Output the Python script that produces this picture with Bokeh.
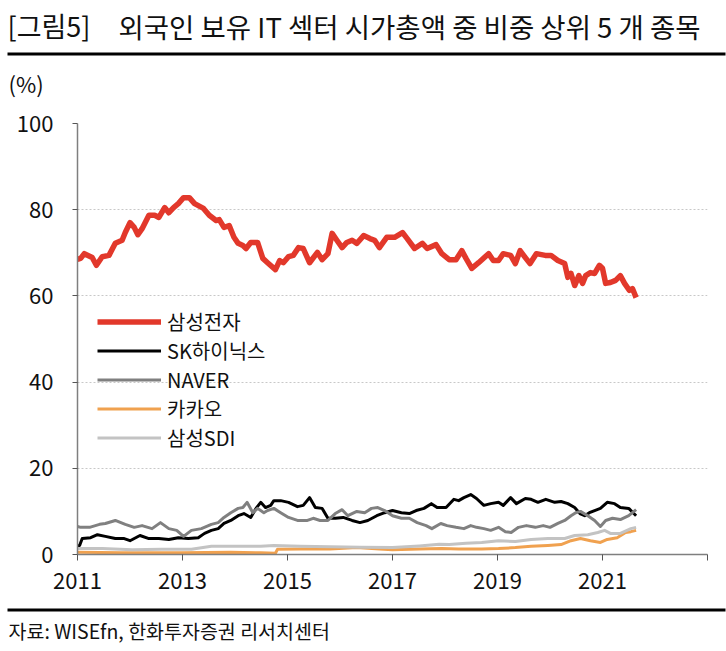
from bokeh.plotting import figure
from bokeh.layouts import column
from bokeh.models import (FixedTicker, Label, Legend, LegendItem, ColumnDataSource, Range1d,
                          BoxAnnotation)
from bokeh.embed import file_html
from bokeh.resources import INLINE

# ---------------- data (decimal years, % share) ----------------
samsung_t = [2011.00, 2011.06, 2011.13, 2011.28, 2011.36, 2011.47, 2011.60, 2011.72, 2011.85, 2011.91,
             2012.00, 2012.08, 2012.15, 2012.23, 2012.36, 2012.47, 2012.55, 2012.66, 2012.74, 2012.83,
             2012.92, 2013.02, 2013.13, 2013.23, 2013.40, 2013.51, 2013.64, 2013.70, 2013.79, 2013.89,
             2013.98, 2014.06, 2014.15, 2014.21, 2014.30, 2014.43, 2014.53, 2014.62, 2014.77, 2014.85,
             2014.92, 2015.02, 2015.11, 2015.21, 2015.30, 2015.42, 2015.57, 2015.66, 2015.77, 2015.85,
             2015.94, 2016.04, 2016.13, 2016.23, 2016.32, 2016.45, 2016.57, 2016.66, 2016.75, 2016.89,
             2017.04, 2017.19, 2017.28, 2017.42, 2017.57, 2017.66, 2017.83, 2017.94, 2018.08, 2018.21,
             2018.32, 2018.40, 2018.51, 2018.64, 2018.83, 2018.92, 2019.02, 2019.11, 2019.25, 2019.34,
             2019.43, 2019.53, 2019.62, 2019.74, 2019.91, 2020.02, 2020.15, 2020.28, 2020.34, 2020.40,
             2020.47, 2020.55, 2020.62, 2020.68, 2020.77, 2020.85, 2020.94, 2021.00, 2021.06, 2021.15,
             2021.25, 2021.34, 2021.42, 2021.51, 2021.57, 2021.64]
samsung_v = [68.5, 68.7, 69.8, 68.9, 67.1, 69.1, 69.4, 72.2, 72.9, 74.7,
             77.0, 75.9, 74.2, 75.6, 78.7, 78.7, 78.2, 80.5, 79.3, 80.5,
             81.4, 82.8, 82.8, 81.4, 80.3, 78.7, 77.5, 77.7, 75.9, 76.3,
             73.6, 72.2, 71.7, 71.0, 72.4, 72.4, 68.7, 67.7, 66.1, 68.2,
             67.7, 69.1, 69.4, 71.2, 71.0, 67.7, 70.1, 68.4, 69.8, 74.5,
             72.9, 71.2, 72.4, 72.9, 72.2, 74.0, 73.3, 72.9, 71.2, 73.6,
             73.6, 74.7, 73.3, 71.0, 72.2, 71.0, 71.9, 69.8, 68.4, 68.4,
             70.5, 68.7, 66.4, 67.7, 69.8, 68.2, 68.2, 69.8, 69.4, 67.5,
             70.5, 68.9, 67.5, 69.8, 69.4, 69.4, 68.2, 67.5, 64.3, 65.2,
             62.4, 64.7, 62.9, 64.7, 65.4, 65.2, 67.1, 66.4, 62.9, 63.1,
             63.6, 64.7, 62.9, 61.3, 61.7, 59.6]

skhynix_t = [2011.00, 2011.04, 2011.09, 2011.25, 2011.38, 2011.53, 2011.72, 2011.89, 2012.00, 2012.19,
             2012.36, 2012.55, 2012.74, 2012.92, 2013.11, 2013.30, 2013.42, 2013.55, 2013.68, 2013.79,
             2013.92, 2014.06, 2014.17, 2014.30, 2014.40, 2014.49, 2014.58, 2014.68, 2014.74, 2014.87,
             2015.02, 2015.19, 2015.30, 2015.42, 2015.53, 2015.66, 2015.77, 2015.91, 2016.06, 2016.23,
             2016.38, 2016.53, 2016.70, 2016.85, 2017.00, 2017.17, 2017.32, 2017.45, 2017.60, 2017.74,
             2017.85, 2018.02, 2018.17, 2018.26, 2018.36, 2018.49, 2018.60, 2018.74, 2018.87, 2019.02,
             2019.11, 2019.25, 2019.36, 2019.53, 2019.64, 2019.77, 2019.92, 2020.09, 2020.21, 2020.34,
             2020.47, 2020.57, 2020.66, 2020.75, 2020.85, 2020.96, 2021.09, 2021.23, 2021.34, 2021.50,
             2021.64]
skhynix_v = [2.0, 2.1, 3.7, 3.9, 4.6, 4.2, 3.7, 3.7, 3.2, 4.4,
             3.7, 3.7, 3.5, 3.9, 3.7, 3.9, 4.9, 5.6, 6.0, 7.2,
             7.9, 9.0, 9.5, 8.6, 10.7, 12.1, 10.9, 11.4, 12.5, 12.5,
             12.1, 11.1, 11.4, 13.2, 10.9, 10.7, 8.4, 8.4, 8.6, 7.9,
             7.4, 7.9, 9.0, 9.7, 10.2, 9.7, 9.5, 10.2, 10.7, 11.8,
             10.9, 10.9, 12.8, 12.5, 13.2, 13.9, 13.0, 11.4, 11.8, 12.1,
             11.4, 13.2, 11.8, 13.0, 12.8, 12.1, 12.8, 12.1, 12.3, 11.8,
             10.9, 9.5, 9.0, 9.7, 10.2, 10.7, 12.1, 11.8, 10.9, 10.7,
             9.0]

naver_t = [2011.00, 2011.06, 2011.23, 2011.42, 2011.53, 2011.72, 2011.91, 2012.08, 2012.23, 2012.42,
           2012.58, 2012.74, 2012.89, 2013.02, 2013.17, 2013.36, 2013.55, 2013.68, 2013.79, 2013.92,
           2014.06, 2014.15, 2014.23, 2014.34, 2014.43, 2014.55, 2014.62, 2014.74, 2014.87, 2015.02,
           2015.19, 2015.38, 2015.49, 2015.62, 2015.77, 2015.91, 2016.04, 2016.15, 2016.32, 2016.47,
           2016.60, 2016.72, 2016.85, 2017.00, 2017.17, 2017.32, 2017.47, 2017.64, 2017.75, 2017.92,
           2018.04, 2018.21, 2018.36, 2018.49, 2018.60, 2018.74, 2018.87, 2019.02, 2019.15, 2019.26,
           2019.40, 2019.55, 2019.72, 2019.87, 2020.00, 2020.15, 2020.28, 2020.40, 2020.49, 2020.58,
           2020.72, 2020.85, 2020.96, 2021.06, 2021.19, 2021.34, 2021.50, 2021.64]
naver_v = [6.5, 6.3, 6.3, 7.0, 7.2, 7.9, 7.0, 6.3, 6.7, 6.0,
           7.4, 6.0, 5.6, 4.2, 5.6, 6.0, 7.0, 7.4, 8.6, 9.7,
           10.7, 10.9, 12.1, 9.7, 10.7, 9.7, 10.2, 10.7, 9.7, 8.6,
           7.9, 7.9, 8.4, 7.9, 7.9, 9.5, 10.4, 9.0, 10.0, 9.7,
           10.7, 10.9, 10.2, 9.0, 8.4, 8.4, 7.4, 6.7, 6.0, 7.2,
           6.7, 6.3, 6.0, 6.7, 6.3, 6.0, 5.6, 6.3, 5.3, 5.1,
           6.3, 6.7, 6.3, 6.7, 6.3, 7.2, 7.9, 9.0, 9.7, 10.0,
           9.0, 7.9, 6.5, 7.9, 8.4, 8.1, 9.0, 10.4]

kakao_t = [2011.00, 2011.85, 2012.98, 2013.92, 2014.49, 2014.77, 2014.81, 2015.25, 2015.81, 2016.32,
           2016.75, 2017.00, 2017.51, 2017.94, 2018.26, 2018.70, 2019.02, 2019.34, 2019.64, 2019.96,
           2020.21, 2020.40, 2020.58, 2020.77, 2020.96, 2021.09, 2021.28, 2021.44, 2021.54, 2021.64]
kakao_v = [0.5, 0.4, 0.4, 0.5, 0.4, 0.3, 1.2, 1.3, 1.3, 1.6,
           1.3, 1.1, 1.3, 1.4, 1.3, 1.3, 1.4, 1.6, 1.9, 2.1,
           2.3, 3.2, 3.7, 3.2, 2.8, 3.5, 3.9, 5.1, 5.3, 5.6]

sdi_t = [2011.00, 2011.47, 2012.04, 2012.60, 2013.17, 2013.55, 2014.11, 2014.49, 2014.74, 2015.25,
         2015.81, 2016.38, 2017.00, 2017.51, 2017.89, 2018.08, 2018.40, 2018.70, 2019.02, 2019.34,
         2019.64, 2019.96, 2020.28, 2020.47, 2020.72, 2020.91, 2021.04, 2021.15, 2021.34, 2021.54,
         2021.64]
sdi_v = [1.4, 1.4, 1.1, 1.2, 1.2, 1.9, 1.9, 1.9, 2.1, 1.9,
         1.8, 1.7, 1.6, 2.0, 2.4, 2.3, 2.6, 2.8, 3.2, 3.0,
         3.5, 3.7, 3.7, 4.4, 4.6, 5.1, 5.6, 4.9, 4.9, 6.0,
         6.3]

series_names = ["삼성전자", "SK하이닉스", "NAVER", "카카오", "삼성SDI"]
series_colors = ["#e2382b", "#000000", "#808080", "#f0a14f", "#c3c3c3"]
series_widths = [5.5, 3, 3, 3, 3]
x_ticks = [2011, 2013, 2015, 2017, 2019, 2021, 2023]
y_ticks = [0, 20, 40, 60, 80, 100]

title_tag = "[그림5]"
title_text = "외국인 보유 IT 섹터 시가총액 중 비중 상위 5 개 종목"
unit_text = "(%)"
source_text = "자료: WISEfn, 한화투자증권 리서치센터"

FONT = "Noto Sans CJK KR"
TXT = "#111111"
W = 726
HEAD_H, CHART_H, FOOT_H = 102, 505, 43


def blank_fig(height):
    f = figure(width=W, height=height, output_backend="svg", toolbar_location=None,
               x_range=Range1d(0, 1), y_range=Range1d(0, 1),
               x_axis_location=None, y_axis_location=None,
               min_border_left=0, min_border_right=0, min_border_top=0, min_border_bottom=0)
    f.grid.visible = False
    f.outline_line_color = None
    f.background_fill_color = "white"
    f.border_fill_color = "white"
    f.frame_align = False
    return f


def rule(bottom, top):
    return BoxAnnotation(left=7, right=725, bottom=bottom, top=top,
                         left_units="screen", right_units="screen",
                         top_units="screen", bottom_units="screen",
                         fill_color="black", fill_alpha=1, line_color=None)


# ---------- header: title, rule, unit ----------
header = blank_fig(HEAD_H)
header.add_layout(Label(x=7, y=HEAD_H - 25, x_units="screen", y_units="screen", text=title_tag,
                        text_font=FONT, text_font_size="27px", text_baseline="middle", text_color=TXT))
header.add_layout(Label(x=118, y=HEAD_H - 25, x_units="screen", y_units="screen", text=title_text,
                        text_font=FONT, text_font_size="27.5px", text_baseline="middle", text_color=TXT))
header.add_layout(rule(HEAD_H - 55, HEAD_H - 52))
header.add_layout(Label(x=8, y=HEAD_H - 82, x_units="screen", y_units="screen", text=unit_text,
                        text_font=FONT, text_font_size="22px", text_baseline="middle", text_color=TXT))

# ---------- chart ----------
p = figure(width=W, height=CHART_H, output_backend="svg", toolbar_location=None,
           x_range=Range1d(2011, 2023), y_range=Range1d(0, 100),
           min_border_left=77, min_border_right=19, min_border_top=123 - HEAD_H,
           min_border_bottom=HEAD_H + CHART_H - 554)
p.outline_line_color = None
p.background_fill_color = "white"
p.frame_align = False

p.xaxis.ticker = FixedTicker(ticks=x_ticks)
p.xaxis.major_label_overrides = {2023: ""}
p.yaxis.ticker = FixedTicker(ticks=y_ticks)
for ax in (p.xaxis, p.yaxis):
    ax.axis_line_color = "#7f7f7f"
    ax.axis_line_width = 1.5
    ax.major_tick_line_color = "#555555"
    ax.minor_tick_line_color = None
    ax.major_label_text_font = FONT
    ax.major_label_text_font_size = "22px"
    ax.major_label_text_color = TXT
p.xaxis.major_tick_in = 0
p.xaxis.major_tick_out = 6
p.xaxis.major_label_standoff = 12
p.yaxis.major_tick_in = 0
p.yaxis.major_tick_out = 5
p.yaxis.major_label_standoff = 19

p.xgrid.grid_line_color = None
p.ygrid.grid_line_color = "#c8c8c8"
p.ygrid.grid_line_dash = "2 2"
p.ygrid.grid_line_width = 1

datasets = [(samsung_t, samsung_v), (skhynix_t, skhynix_v), (naver_t, naver_v),
            (kakao_t, kakao_v), (sdi_t, sdi_v)]
renderers = []
for (t, v), c, w in zip(datasets, series_colors, series_widths):
    src = ColumnDataSource(dict(x=t, y=v))
    r = p.line("x", "y", source=src, line_color=c, line_width=w, line_join="round")
    renderers.append(r)

legend = Legend(items=[LegendItem(label=n, renderers=[r]) for n, r in zip(series_names, renderers)],
                location=(20, 102), orientation="vertical",
                label_text_font=FONT, label_text_font_size="20px", label_text_color=TXT,
                glyph_width=64, glyph_height=29, label_height=29, spacing=0,
                label_standoff=6, padding=0, margin=0,
                border_line_color=None, background_fill_alpha=0)
p.add_layout(legend, "center")

# ---------- footer: rule + source ----------
footer = blank_fig(FOOT_H)
footer.add_layout(rule(FOOT_H - 4, FOOT_H - 1))
footer.add_layout(Label(x=8, y=FOOT_H - 23, x_units="screen", y_units="screen", text=source_text,
                        text_font=FONT, text_font_size="19.5px", text_baseline="middle", text_color=TXT))

layout = column(header, p, footer, spacing=0)
open("out.html", "w").write(file_html(layout, INLINE))
